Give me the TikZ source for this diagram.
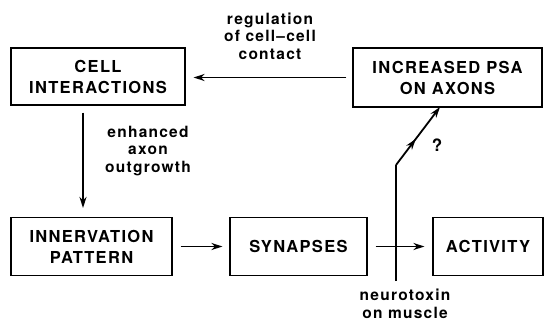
\documentclass[tikz,border=0pt]{standalone}
\usepackage{fontspec}
\setmainfont{TeX Gyre Heros}[LetterSpace=8,BoldFont={TeX Gyre Heros Bold}]
\usetikzlibrary{arrows.meta,decorations.markings}
\begin{document}
\begin{tikzpicture}[x=1pt,y=-1pt,
  box/.style={draw,line width=1.1pt,align=center,inner sep=0pt,
    font=\fontsize{16.5}{21}\selectfont\bfseries},
  lbl/.style={align=center,inner sep=0pt,font=\fontsize{15.5}{17.5}\selectfont\bfseries},
  arr/.style={line width=1.8pt,-{Stealth[length=11pt,width=7pt]}},
  ln/.style={line width=1.8pt}]
\useasboundingbox (0,0) rectangle (544,327);
\node[box,minimum width=174pt,minimum height=57pt] (cell) at (98,76.5) {CELL\\INTERACTIONS};
\node[box,minimum width=189pt,minimum height=59pt] (psa) at (447.5,77.5) {INCREASED PSA\\ON AXONS};
\node[box,minimum width=161pt,minimum height=58pt] (inn) at (91.5,246.5) {INNERVATION\\PATTERN};
\node[box,minimum width=137pt,minimum height=58pt] (syn) at (298.5,246.5) {SYNAPSES};
\node[box,minimum width=110pt,minimum height=58pt] (act) at (488,246.5) {ACTIVITY};
\node[lbl] (reg) at (270,36) {regulation\\of cell--cell\\contact};
\node[lbl] (enh) at (148,151) {enhanced\\axon\\outgrowth};
\node[lbl] (neu) at (405,304) {neurotoxin\\on muscle};
\node[lbl,font=\fontsize{17}{18}\selectfont\bfseries] (q) at (437,145) {?};
\coordinate (dx) at (83,0);
\coordinate (nt) at (396,281);
\coordinate (bend) at (396,165);
\coordinate (tip) at (440,107);
\draw[arr,shorten <=6pt,shorten >=8pt] (psa.west) -- (psa.west -| cell.east);
\draw[arr,shorten <=7pt,shorten >=9pt] (cell.south -| dx) -- (inn.north -| dx);
\draw[arr,shorten <=8pt,shorten >=7pt] (inn.east) -- (syn.west);
\draw[arr,shorten <=8pt,shorten >=8pt] (syn.east) -- (act.west);
\draw[ln] (nt) -- (bend);
\draw[arr,postaction={decorate},decoration={markings,
  mark=at position 0.45 with {\arrow{Stealth[length=11pt,width=7pt]}}}] (bend) -- (tip);
\end{tikzpicture}
\end{document}
